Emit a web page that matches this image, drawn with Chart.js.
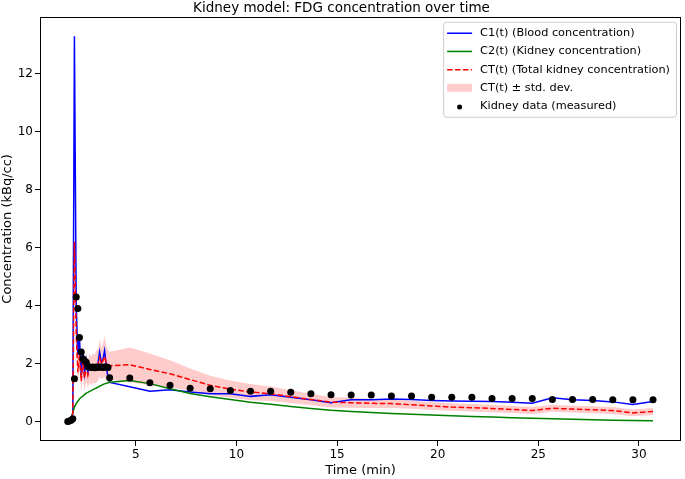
<!DOCTYPE html>
<html>
<head>
<meta charset="utf-8">
<script src="https://cdn.jsdelivr.net/npm/chart.js@4.4.0/dist/chart.umd.min.js"></script>
<style>
    html, body { margin: 0; padding: 0; background: #fff; }
    #chart { display: block; }
</style>
</head>
<body>
<canvas id="chart" width="685" height="479"></canvas>
<script>
// --- DATA ---
const timeMin = [
    1.62, 1.70, 1.79, 1.87, 1.95, 2.04, 2.12, 2.20, 2.29, 2.37, 2.45, 2.54, 2.62,
    2.70, 2.79, 2.87, 2.95, 3.04, 3.12, 3.20, 3.29, 3.37, 3.45, 3.54, 3.62, 3.70,
    4.7, 5.7, 6.7, 7.7, 8.7, 9.7, 10.7, 11.7, 12.7, 13.7, 14.7, 15.7, 16.7, 17.7,
    18.7, 19.7, 20.7, 21.7, 22.7, 23.7, 24.7, 25.7, 26.7, 27.7, 28.7, 29.7, 30.7
];
const bloodC1 = [
    0.0, 0.02, 0.08, 0.3, 13.3, 4.0, 2.3, 2.9, 1.6, 2.4, 1.65, 2.1, 1.7,
    1.95, 1.8, 1.9, 1.85, 1.9, 2.0, 2.4, 2.05, 2.15, 2.45, 1.9, 1.5, 1.35,
    1.2, 1.05, 1.10, 1.02, 0.96, 0.96, 0.87, 0.93, 0.84, 0.75, 0.65, 0.75, 0.75, 0.78,
    0.76, 0.73, 0.71, 0.70, 0.69, 0.67, 0.63, 0.82, 0.75, 0.73, 0.68, 0.59, 0.69
];
const kidneyC2 = [
    0.0, 0.02, 0.08, 0.3, 0.5, 0.62, 0.70, 0.78, 0.84, 0.88, 0.93, 0.98, 1.01,
    1.04, 1.07, 1.10, 1.13, 1.16, 1.19, 1.22, 1.25, 1.28, 1.30, 1.32, 1.34, 1.36,
    1.42, 1.31, 1.13, 0.97, 0.86, 0.76, 0.67, 0.60, 0.52, 0.45, 0.39, 0.35, 0.31, 0.28,
    0.25, 0.225, 0.20, 0.175, 0.155, 0.135, 0.115, 0.095, 0.08, 0.065, 0.05, 0.04, 0.03
];
const totalCT = [
    0.0, 0.03, 0.1, 0.3, 6.2, 3.0, 1.7, 2.3, 1.4, 2.1, 1.5, 1.9, 1.6,
    1.85, 1.75, 1.85, 1.8, 1.9, 1.95, 2.2, 2.0, 2.1, 2.25, 2.0, 1.97, 1.93,
    1.96, 1.80, 1.65, 1.45, 1.25, 1.12, 1.02, 0.96, 0.86, 0.76, 0.67, 0.65, 0.63, 0.62,
    0.58, 0.54, 0.50, 0.48, 0.45, 0.42, 0.38, 0.46, 0.43, 0.41, 0.38, 0.30, 0.35
];
const totalCTStd = [
    0.0, 0.01, 0.03, 0.08, 0.3, 0.4, 0.45, 0.5, 0.4, 0.5, 0.45, 0.5, 0.45,
    0.5, 0.5, 0.5, 0.5, 0.55, 0.55, 0.65, 0.55, 0.6, 0.7, 0.6, 0.5, 0.48,
    0.6, 0.55, 0.47, 0.38, 0.33, 0.30, 0.28, 0.25, 0.22, 0.20, 0.18, 0.17, 0.16, 0.15,
    0.14, 0.14, 0.13, 0.13, 0.13, 0.12, 0.12, 0.12, 0.12, 0.12, 0.12, 0.12, 0.12
];
const kidneyMeasured = [
    0.0, 0.02, 0.05, 0.10, 1.48, 4.30, 3.90, 2.90, 2.40, 2.17, 2.10, 2.05, 1.90,
    1.88, 1.87, 1.88, 1.86, 1.88, 1.87, 1.88, 1.88, 1.87, 1.88, 1.88, 1.87, 1.51,
    1.50, 1.34, 1.25, 1.15, 1.13, 1.07, 1.05, 1.05, 1.01, 0.96, 0.93, 0.92, 0.92, 0.88,
    0.88, 0.84, 0.84, 0.84, 0.80, 0.80, 0.80, 0.76, 0.76, 0.76, 0.75, 0.75, 0.75
];
const xTicks = [5, 10, 15, 20, 25, 30];
const yTicks = [0, 2, 4, 6, 8, 10, 12];

// --- HELPERS ---
const FONT = "'DejaVu Sans', sans-serif";
const toPoints = values => timeMin.map((t, i) => ({ x: t, y: values[i] }));
const bandUpper = totalCT.map((v, i) => v + totalCTStd[i]);
const bandLower = totalCT.map((v, i) => v - totalCTStd[i]);

// Frame on all four sides + matplotlib style legend box
const frameAndLegend = {
    id: 'frameAndLegend',
    afterDraw(chart) {
        const { ctx, chartArea: a } = chart;
        ctx.save();
        ctx.strokeStyle = '#000';
        ctx.lineWidth = 1;
        ctx.strokeRect(Math.round(a.left) + 0.5, Math.round(a.top) + 0.5,
            Math.round(a.right - a.left) - 1, Math.round(a.bottom - a.top) - 1);

        const items = chart.data.datasets.filter(d => d.legendKind);
        ctx.font = '11.3px ' + FONT;
        const textW = Math.max(...items.map(d => ctx.measureText(d.label).width));
        const boxRight = a.right - 5, boxTop = a.top + 5;
        const boxW = textW + 43, boxH = 95;
        const boxLeft = boxRight - boxW;

        ctx.beginPath();
        ctx.roundRect(boxLeft + 0.5, boxTop + 0.5, boxW, boxH, 3);
        ctx.fillStyle = 'rgba(255,255,255,0.8)';
        ctx.fill();
        ctx.strokeStyle = '#cccccc';
        ctx.stroke();

        items.forEach((d, i) => {
            const cy = a.top + 16.5 + i * 18.2;
            const x0 = boxLeft + 4, x1 = boxLeft + 29;
            if (d.legendKind === 'line') {
                ctx.beginPath();
                ctx.setLineDash(d.borderDash || []);
                ctx.strokeStyle = d.borderColor;
                ctx.lineWidth = 1.5;
                ctx.moveTo(x0, cy);
                ctx.lineTo(x1, cy);
                ctx.stroke();
                ctx.setLineDash([]);
            } else if (d.legendKind === 'rect') {
                ctx.fillStyle = d.backgroundColor;
                ctx.fillRect(x0, cy - 4, x1 - x0, 8);
            } else {
                ctx.beginPath();
                ctx.fillStyle = '#000';
                ctx.arc((x0 + x1) / 2, cy + 1, 2.5, 0, Math.PI * 2);
                ctx.fill();
            }
            ctx.fillStyle = '#000';
            ctx.textBaseline = 'middle';
            ctx.textAlign = 'left';
            ctx.fillText(d.label, boxLeft + 37, cy);
        });
        ctx.restore();
    }
};

// --- CHART ---
new Chart(document.getElementById('chart'), {
    type: 'line',
    data: {
        datasets: [
            {
                label: 'C1(t) (Blood concentration)', legendKind: 'line',
                data: toPoints(bloodC1), borderColor: '#0000ff', borderWidth: 1.5,
                pointRadius: 0, order: 4
            },
            {
                label: 'C2(t) (Kidney concentration)', legendKind: 'line',
                data: toPoints(kidneyC2), borderColor: '#008000', borderWidth: 1.5,
                pointRadius: 0, order: 3
            },
            {
                label: 'CT(t) (Total kidney concentration)', legendKind: 'line',
                data: toPoints(totalCT), borderColor: '#ff0000', borderWidth: 1.5,
                borderDash: [5.5, 2.4], pointRadius: 0, order: 2
            },
            {
                label: 'upper', data: toPoints(bandUpper),
                borderColor: 'transparent', borderWidth: 0, pointRadius: 0, order: 6
            },
            {
                label: 'CT(t) \u00b1 std. dev.', legendKind: 'rect',
                data: toPoints(bandLower), borderColor: 'transparent', borderWidth: 0,
                pointRadius: 0, fill: '-1', backgroundColor: 'rgba(255,0,0,0.2)', order: 5
            },
            {
                label: 'Kidney data (measured)', legendKind: 'dot',
                data: toPoints(kidneyMeasured), showLine: false,
                pointRadius: 3.5, pointBackgroundColor: '#000', pointBorderWidth: 0,
                borderColor: '#000', order: 1
            }
        ]
    },
    options: {
        responsive: false,
        devicePixelRatio: 1,
        animation: false,
        layout: { padding: { left: 0, right: 2, top: 0, bottom: 0 } },
        plugins: {
            legend: { display: false },
            tooltip: { enabled: false },
            title: {
                display: true,
                text: 'Kidney model: FDG concentration over time',
                color: '#000',
                font: { family: FONT, size: 13.5, weight: 'normal', lineHeight: 1.24 },
                padding: { top: 0, bottom: 0 }
            }
        },
        scales: {
            x: {
                type: 'linear',
                min: 0.24,
                max: 32.09,
                afterBuildTicks: s => { s.ticks = xTicks.map(v => ({ value: v })); },
                afterFit: s => { s.height = 38; },
                grid: { drawOnChartArea: false, drawTicks: true, tickLength: 5, color: '#000' },
                border: { display: false },
                ticks: { color: '#000', font: { family: FONT, size: 12 }, padding: 2, maxRotation: 0 },
                title: {
                    display: true, text: 'Time (min)', color: '#000',
                    font: { family: FONT, size: 13 }, padding: { top: 0, bottom: 1 }
                }
            },
            y: {
                type: 'linear',
                min: -0.67,
                max: 13.97,
                afterBuildTicks: s => { s.ticks = yTicks.map(v => ({ value: v })); },
                afterFit: s => { s.width = 40; },
                grid: { drawOnChartArea: false, drawTicks: true, tickLength: 5, color: '#000' },
                border: { display: false },
                ticks: { color: '#000', font: { family: FONT, size: 12 }, padding: 2 },
                title: {
                    display: true, text: 'Concentration (kBq/cc)', color: '#000',
                    font: { family: FONT, size: 13 }, padding: { top: 0, bottom: 0 }
                }
            }
        }
    },
    plugins: [frameAndLegend]
});
</script>
</body>
</html>
